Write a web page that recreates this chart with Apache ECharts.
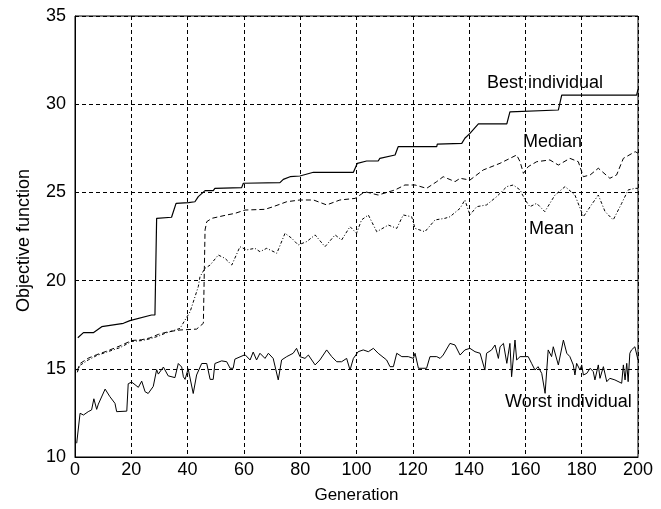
<!DOCTYPE html>
<html lang="en">
<head>
<meta charset="UTF-8">
<script src="https://cdn.jsdelivr.net/npm/echarts@6/dist/echarts.min.js"></script>
<style>
    * { margin: 0; padding: 0; }
    body { background: #fff; }
    #chart { width: 661px; height: 509px; }
</style>
</head>
<body>
<div id="chart"></div>
<script>
    // generation / value pairs
    var bestGen = [1, 3, 6.5, 9.5, 17.2, 19.5, 27.2, 28.4, 29, 34.3, 35.9, 40.3, 42.6, 43.8, 46.2, 49.1, 49.7, 59.2, 59.8, 72.8,
        74, 76.4, 79.9, 84.7, 98.9, 100.3, 103.6, 107.7, 108.3, 113.7, 114.8, 128.5, 128.7, 137.4, 138.5, 140.3, 143.3, 153.4,
        154.5, 171.7, 172.9, 199.5, 200];
    var bestVal = [16.76, 17.05, 17.05, 17.39, 17.58, 17.73, 18.05, 18.05, 23.53, 23.59, 24.38, 24.42, 24.47, 24.76, 25.1, 25.1,
        25.23, 25.27, 25.52, 25.55, 25.74, 25.89, 25.93, 26.14, 26.14, 26.65, 26.78, 26.78, 26.93, 27.12, 27.59, 27.59, 27.74,
        27.78, 28.07, 28.35, 28.88, 28.88, 29.57, 29.67, 30.52, 30.52, 30.84];

    var medianGen = [0.8, 1.8, 4.7, 7.7, 11.3, 16, 20.1, 23.7, 26.6, 29.6, 33.1, 37.3, 43.2, 45.6, 46.2, 46.8, 48.6, 53.9, 56.8,
        60.4, 67.5, 70.4, 75.2, 79.9, 84.7, 89.4, 94.1, 99.5, 103, 107.7, 113.7, 117.2, 120.8, 124.9, 128.5, 130.8, 135, 136.8,
        140.3, 145, 151, 156.9, 158.1, 159.3, 161, 164, 168.7, 171.7, 175.8, 178.8, 180.6, 183, 185.9, 190, 192.4, 194.8, 199, 200];
    var medianVal = [14.9, 15.3, 15.6, 15.8, 16.0, 16.3, 16.6, 16.65, 16.75, 16.95, 17.1, 17.2, 17.25, 17.58, 22.87, 23.34, 23.53,
        23.72, 23.81, 24.0, 24.04, 24.19, 24.47, 24.57, 24.57, 24.29, 24.57, 24.66, 25.04, 24.85, 25.14, 25.42, 25.42, 25.23,
        25.61, 25.89, 25.61, 25.8, 25.7, 26.27, 26.65, 27.12, 26.74, 26.08, 26.46, 26.74, 26.84, 26.55, 26.93, 26.74, 25.89,
        25.99, 26.37, 25.8, 25.99, 26.93, 27.31, 27.22];

    var meanGen = [0.8, 1.8, 4.7, 7.7, 11.3, 16, 20.1, 23.7, 26.6, 29.6, 32, 37.3, 40.9, 43.8, 44.4, 46.2, 48, 50.9, 53.3, 55.7,
        58.6, 61, 63.9, 65.7, 68.1, 71.7, 74.6, 77, 79.3, 82.3, 85.3, 88.8, 92.4, 94.7, 97.7, 100, 101.8, 104.2, 107.2, 111.3,
        114.3, 116.6, 119.6, 120.8, 124.3, 127.9, 131.4, 133.2, 136.8, 138.5, 140.3, 142.7, 146.2, 149.8, 153.4, 155.7, 158.1,
        159.9, 161.6, 164, 166.9, 170.5, 174.1, 177.6, 180.6, 183, 185.9, 188.3, 191.2, 194.2, 196.5, 198.9, 200];
    var meanVal = [14.8, 15.2, 15.5, 15.75, 15.95, 16.2, 16.55, 16.6, 16.7, 16.85, 17.01, 17.29, 18.24, 19.66, 20.22, 20.7, 20.88,
        21.45, 21.26, 20.88, 21.92, 21.74, 21.83, 21.64, 21.83, 21.55, 22.68, 22.4, 22.02, 22.21, 22.59, 21.92, 22.59, 22.3,
        23.06, 22.68, 23.44, 23.72, 22.77, 23.15, 22.96, 23.72, 23.62, 22.96, 22.77, 23.44, 23.53, 23.62, 24.1, 24.57, 23.72,
        24.19, 24.29, 24.76, 25.33, 25.42, 25.14, 24.57, 24.19, 24.38, 23.91, 24.85, 25.33, 24.85, 23.62, 24.19, 24.85, 23.91,
        23.44, 24.38, 25.14, 25.23, 25.23];

    var worstGen = [0.6, 1.8, 3, 4.7, 5.9, 6.7, 7.7, 8.3, 10.7, 12.4, 14.2, 14.8, 18.4, 18.9, 20.1, 22.5, 23.7, 24.9, 26, 27.8,
        29, 29.6, 31.4, 33.1, 35.5, 36.7, 37.9, 38.5, 39.1, 40.2, 42, 43.2, 45, 46.8, 48, 49.1, 49.7, 52.1, 53.9, 55.1, 56.2,
        56.8, 60.4, 62.2, 63.3, 64.5, 65.7, 67.5, 68.7, 70.4, 72.2, 73.4, 75.2, 77.5, 78.7, 79.9, 81.7, 82.9, 85.3, 87, 89.4,
        91.2, 93, 94.7, 96.5, 97.7, 98.9, 100.6, 102.4, 104.2, 106, 107.7, 110.7, 111.9, 113.1, 114.3, 116.1, 118.4, 120.2,
        120.8, 122, 124.9, 126.1, 128.5, 129.7, 130.8, 133.2, 135, 136.8, 138.5, 140.3, 142.1, 143.9, 145.6, 146.2, 148, 149.2,
        150.4, 151, 152.2, 153.4, 154.5, 155.1, 156.3, 156.9, 158.1, 161, 162.2, 163.4, 164.5, 165.8, 167, 168.1, 169.3, 169.9,
        171.7, 173.5, 174.7, 175.8, 177, 177.6, 178.2, 179.4, 180, 180.6, 181.8, 183, 184.1, 184.7, 185.9, 186.5, 187.7, 188.9,
        190, 191.8, 194.2, 194.8, 195.4, 196, 196.5, 197.1, 197.7, 198.9, 200];
    var worstVal = [10.78, 12.48, 12.38, 12.57, 12.67, 13.3, 12.7, 13.0, 13.85, 13.42, 13.04, 12.57, 12.6, 14.15, 14.25, 13.95,
        14.3, 13.7, 13.6, 14.0, 14.95, 14.7, 15.1, 14.6, 14.5, 15.3, 15.1, 14.55, 14.4, 15.0, 13.6, 14.65, 15.3, 15.3, 14.4,
        14.4, 15.3, 15.45, 15.4, 15.03, 15.03, 15.55, 15.8, 15.5, 15.95, 15.5, 15.88, 15.59, 15.88, 15.59, 14.37, 15.5, 15.69,
        15.88, 16.16, 15.69, 15.59, 15.78, 15.22, 15.5, 16.07, 15.69, 15.4, 15.4, 15.59, 14.93, 15.59, 15.97, 16.07, 15.97,
        16.16, 15.88, 15.5, 15.12, 15.12, 15.88, 15.69, 15.69, 15.59, 15.88, 15.03, 15.03, 15.69, 15.69, 15.59, 15.78, 16.44,
        16.35, 15.78, 16.07, 16.16, 15.97, 15.88, 14.93, 15.88, 16.07, 16.35, 15.59, 16.25, 16.44, 15.31, 16.44, 14.55, 16.63,
        15.5, 15.69, 15.69, 15.31, 14.93, 15.12, 14.74, 13.61, 16.07, 15.69, 16.25, 15.22, 16.63, 15.88, 15.69, 15.22, 14.65,
        15.31, 14.93, 15.22, 14.65, 14.74, 15.03, 14.84, 14.37, 15.22, 14.46, 15.12, 14.27, 14.46, 14.37, 14.18, 15.22, 14.37,
        15.31, 14.27, 15.88, 16.07, 16.25, 15.5];

    var xTicks = [0, 20, 40, 60, 80, 100, 120, 140, 160, 180, 200];
    var yTicks = [10, 15, 20, 25, 30, 35];

    function pairs(gen, val) {
        var out = [];
        for (var i = 0; i < gen.length; i++) {
            out.push([gen[i], val[i]]);
        }
        return out;
    }

    var font = '"Liberation Sans", Arial, Helvetica, sans-serif';
    var gridDash = {color: '#000', width: 1, type: [4, 3]};

    var myChart = echarts.init(document.getElementById('chart'));

    function lineSeries(name, gen, val, dash, width) {
        return {
            name: name,
            type: 'line',
            data: pairs(gen, val),
            showSymbol: false,
            symbol: 'none',
            lineStyle: {color: '#000', width: width, type: dash},
            z: 3
        };
    }

    var option = {
        animation: false,
        backgroundColor: '#fff',
        textStyle: {fontFamily: font},
        grid: {
            left: 75, right: 23, top: 16, bottom: 52,
            show: true, borderColor: '#000', borderWidth: 1
        },
        xAxis: {
            type: 'value',
            min: xTicks[0],
            max: xTicks[xTicks.length - 1],
            interval: 20,
            name: 'Generation',
            nameLocation: 'middle',
            nameGap: 30,
            nameTextStyle: {color: '#000', fontSize: 17, fontFamily: font},
            axisLine: {lineStyle: {color: '#000'}},
            axisTick: {show: false},
            axisLabel: {color: '#000', fontSize: 18, fontFamily: font, margin: 4},
            splitLine: {show: true, lineStyle: gridDash}
        },
        yAxis: {
            type: 'value',
            min: yTicks[0],
            max: yTicks[yTicks.length - 1],
            interval: 5,
            name: 'Objective function',
            nameLocation: 'middle',
            nameGap: 42,
            nameTextStyle: {color: '#000', fontSize: 18, fontFamily: font, padding: [0, 8, 0, 0]},
            axisLine: {lineStyle: {color: '#000'}},
            axisTick: {show: false},
            axisLabel: {color: '#000', fontSize: 18, fontFamily: font, margin: 9},
            splitLine: {show: true, lineStyle: gridDash}
        },
        graphic: [
            {type: 'text', left: 487, top: 74, style: {text: 'Best individual', fill: '#000', font: '18px ' + font}},
            {type: 'text', left: 523, top: 133, style: {text: 'Median', fill: '#000', font: '18px ' + font}},
            {type: 'text', left: 529, top: 220, style: {text: 'Mean', fill: '#000', font: '18px ' + font}},
            {type: 'text', left: 505, top: 393, style: {text: 'Worst individual', fill: '#000', font: '18px ' + font}}
        ],
        series: [
            lineSeries('Best individual', bestGen, bestVal, 'solid', 1.2),
            lineSeries('Median', medianGen, medianVal, [5, 3], 1),
            lineSeries('Mean', meanGen, meanVal, [3, 2, 1, 2], 1),
            lineSeries('Worst individual', worstGen, worstVal, 'solid', 1)
        ]
    };

    myChart.setOption(option);
</script>
</body>
</html>
